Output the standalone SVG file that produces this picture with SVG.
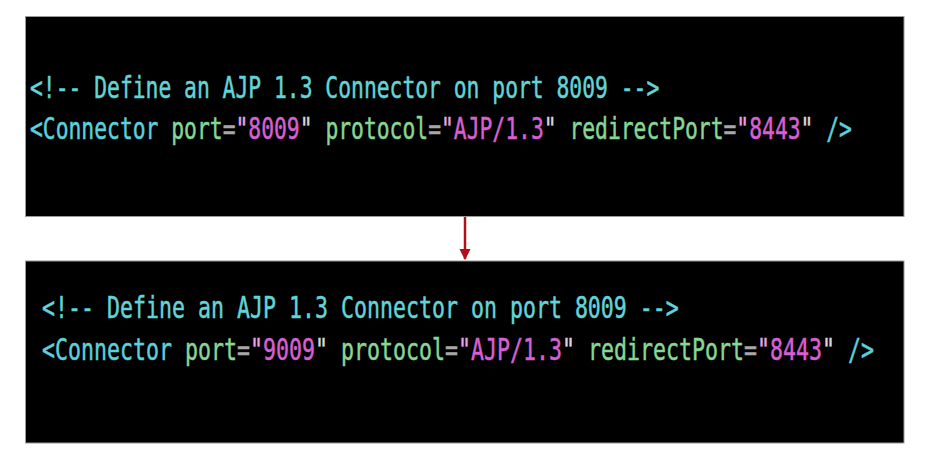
<svg xmlns="http://www.w3.org/2000/svg" width="928" height="457" viewBox="0 0 928 457">
<style>
.box{fill:#000;stroke:#9a9a9a;stroke-width:1}
.code{font-family:"DejaVu Sans Mono","Liberation Mono",monospace;font-size:30px;stroke-width:0.5}
.c{fill:#62d4d8;stroke:#62d4d8}
.t{fill:#5cd0dc;stroke:#5cd0dc}
.a{fill:#88d694;stroke:#88d694}
.e{fill:#a8a8a8;stroke:#a8a8a8}
.v{fill:#d660d2;stroke:#d660d2}
.q1{fill:#e6a6e4;stroke:#e6a6e4}
.q2{fill:#d8d8d8;stroke:#d8d8d8}
</style>
<defs>
<marker id="ah" viewBox="0 0 10 10" refX="9" refY="5" markerWidth="4.5" markerHeight="4.5" orient="auto" markerUnits="strokeWidth">
<path d="M0,0 L10,5 L0,10 z" fill="#b0101a"/>
</marker>
</defs>
<rect width="928" height="457" fill="#fff"/>
<g id="before">
<rect class="box" x="25.5" y="16.5" width="878.5" height="200"/>
<g transform="translate(30 0) scale(0.7115 1)">
<text class="code" x="0" y="98"><tspan class="c">&lt;!-- Define an AJP 1.3 Connector on port 8009 --&gt;</tspan></text>
<text class="code" x="0" y="139"><tspan class="t">&lt;Connector</tspan><tspan class="a"> port</tspan><tspan class="e">=</tspan><tspan class="q1">"</tspan><tspan class="v">8009</tspan><tspan class="q2">"</tspan><tspan class="a"> protocol</tspan><tspan class="e">=</tspan><tspan class="q1">"</tspan><tspan class="v">AJP/1.3</tspan><tspan class="q2">"</tspan><tspan class="a"> redirectPort</tspan><tspan class="e">=</tspan><tspan class="q1">"</tspan><tspan class="v">8443</tspan><tspan class="q2">"</tspan><tspan class="t"> /&gt;</tspan></text>
</g>
</g>
<g id="after">
<rect class="box" x="25.5" y="261" width="878.5" height="182"/>
<g transform="translate(42 0) scale(0.72 1)">
<text class="code" x="0" y="318"><tspan class="c">&lt;!-- Define an AJP 1.3 Connector on port 8009 --&gt;</tspan></text>
<text class="code" x="0" y="360"><tspan class="t">&lt;Connector</tspan><tspan class="a"> port</tspan><tspan class="e">=</tspan><tspan class="q1">"</tspan><tspan class="v">9009</tspan><tspan class="q2">"</tspan><tspan class="a"> protocol</tspan><tspan class="e">=</tspan><tspan class="q1">"</tspan><tspan class="v">AJP/1.3</tspan><tspan class="q2">"</tspan><tspan class="a"> redirectPort</tspan><tspan class="e">=</tspan><tspan class="q1">"</tspan><tspan class="v">8443</tspan><tspan class="q2">"</tspan><tspan class="t"> /&gt;</tspan></text>
</g>
</g>
<g id="connectors">
<line x1="465" y1="217" x2="465" y2="259" stroke="#b0101a" stroke-width="2.5" marker-end="url(#ah)"/>
</g>
</svg>
